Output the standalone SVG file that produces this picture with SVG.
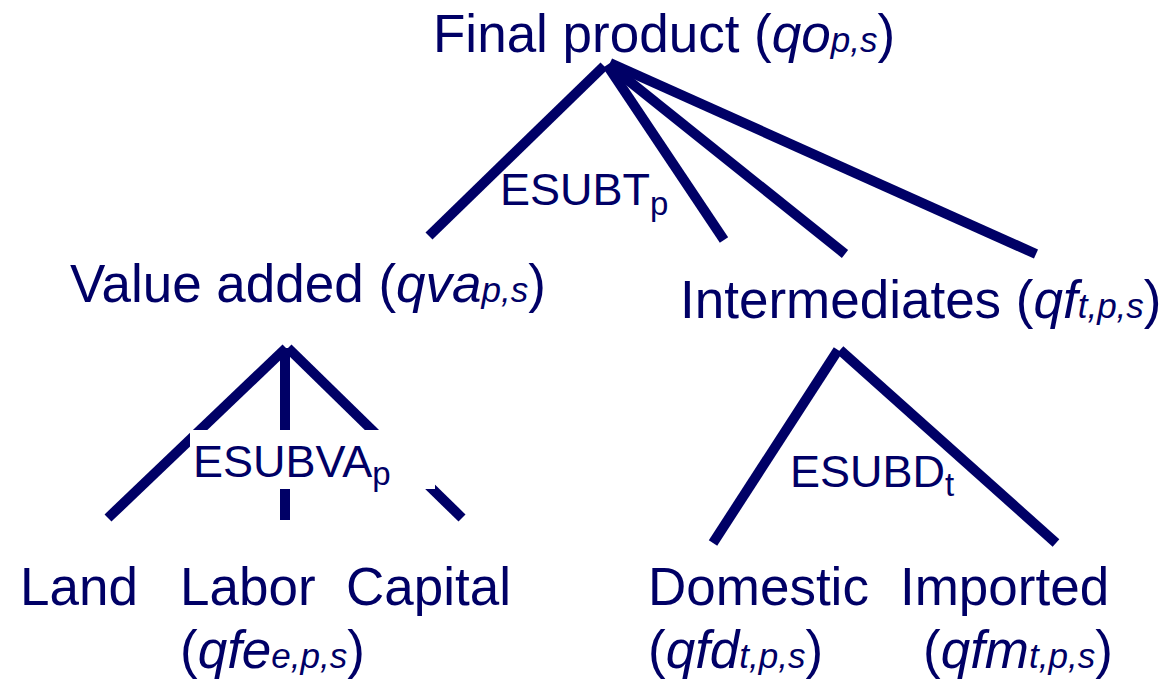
<svg xmlns="http://www.w3.org/2000/svg" width="1165" height="685" viewBox="0 0 1165 685">
<style>
.t{font-family:"Liberation Sans",Arial,sans-serif;font-size:53px;fill:#000066}
.e{font-family:"Liberation Sans",Arial,sans-serif;font-size:45px;fill:#000066}
.i{font-style:italic}
.s{font-size:35px;font-style:italic}
.se{font-size:33px}
.ln{stroke:#000066;stroke-width:10;fill:none;stroke-linecap:butt}
</style>
<rect width="1165" height="685" fill="#ffffff"/>
<g id="connectors">
<line class="ln" x1="604" y1="66" x2="429" y2="236"/>
<line class="ln" x1="607" y1="65" x2="724" y2="240"/>
<line class="ln" x1="609" y1="65" x2="845" y2="254"/>
<line class="ln" x1="610" y1="63" x2="1036" y2="254"/>
<line class="ln" x1="286" y1="348" x2="108" y2="518"/>
<line class="ln" x1="285" y1="348" x2="285" y2="520"/>
<line class="ln" x1="288" y1="348" x2="462" y2="518"/>
<line class="ln" x1="838" y1="350" x2="713" y2="543"/>
<line class="ln" x1="840" y1="350" x2="1056" y2="543"/>
</g>
<g id="node-final">
<text class="t" x="433" y="52">Final product (<tspan class="i">qo</tspan><tspan class="s">p,s</tspan>)</text>
</g>
<g id="label-esubt">
<text class="e" x="500" y="205">ESUBT<tspan class="se" dy="10">p</tspan></text>
</g>
<g id="node-va">
<text class="t" x="70" y="302">Value added (<tspan class="i">qva</tspan><tspan class="s">p,s</tspan>)</text>
</g>
<g id="node-int">
<text class="t" x="680" y="318">Intermediates (<tspan class="i">qf</tspan><tspan class="s">t,p,s</tspan>)</text>
</g>
<g id="label-esubva">
<rect x="190" y="430" width="245" height="59" fill="#ffffff"/>
<text class="e" x="193" y="477">ESUBVA<tspan class="se" dy="8">p</tspan></text>
</g>
<g id="label-esubd">
<text class="e" x="790" y="487">ESUBD<tspan class="se" dy="9">t</tspan></text>
</g>
<g id="node-land">
<text class="t" x="20" y="605">Land</text>
</g>
<g id="node-labor">
<text class="t" x="180" y="605">Labor</text>
<text class="t" x="180" y="668">(<tspan class="i">qfe</tspan><tspan class="s">e,p,s</tspan>)</text>
</g>
<g id="node-capital">
<text class="t" x="346" y="605">Capital</text>
</g>
<g id="node-domestic">
<text class="t" x="648" y="605">Domestic</text>
<text class="t" x="648" y="668">(<tspan class="i">qfd</tspan><tspan class="s">t,p,s</tspan>)</text>
</g>
<g id="node-imported">
<text class="t" x="900" y="605">Imported</text>
<text class="t" x="923" y="668">(<tspan class="i">qfm</tspan><tspan class="s">t,p,s</tspan>)</text>
</g>
</svg>
